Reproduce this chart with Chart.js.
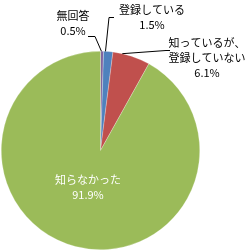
<!DOCTYPE html>
<html>
<head>
<meta charset="utf-8">
<script src="https://cdn.jsdelivr.net/npm/chart.js@4"></script>
<style>
  html, body { margin: 0; padding: 0; background: #fff; }
  #wrap { width: 246px; height: 251px; position: relative; }
</style>
</head>
<body>
<div id="wrap"><canvas id="myChart"></canvas></div>
<script>
// Data
const categories = ['無回答', '登録している', '知っているが、\n登録していない', '知らなかった'];
const values = [0.5, 1.5, 6.1, 91.9];
const sliceColors = ['#8064A2', '#4F81BD', '#C0504D', '#9BBB59'];

// Where each label sits (text centre x, first line y) and its leader line:
// stub = [stub start x, stub end x, y], at = where along the slice the line ends
const labelLayout = [
    { x: 73, y: 16, color: '#000', stub: [88, 95, 36], at: 0.3 },
    { x: 152, y: 10, color: '#000', stub: [114, 109, 17], at: 0.2 },
    { x: 207, y: 43, color: '#000', stub: [170, 166, 50], at: 0.25 },
    { x: 88, y: 180, color: '#fff', stub: null }
];

const pieLabels = {
    id: 'pieLabels',
    afterDatasetsDraw(chart) {
        const ctx = chart.ctx;
        const meta = chart.getDatasetMeta(0);
        ctx.save();
        ctx.font = '11px "Noto Sans CJK JP", sans-serif';
        ctx.textAlign = 'center';
        ctx.textBaseline = 'middle';
        meta.data.forEach((arc, i) => {
            const L = labelLayout[i];
            const lines = categories[i].split('\n').concat([values[i].toFixed(1) + '%']);
            ctx.fillStyle = L.color;
            lines.forEach((t, k) => ctx.fillText(t, L.x, L.y + k * 15));

            if (L.stub) {
                const p = arc.getProps(['x', 'y', 'startAngle', 'endAngle', 'outerRadius'], true);
                const a = p.startAngle + (p.endAngle - p.startAngle) * L.at;
                const ex = p.x + Math.cos(a) * p.outerRadius;
                const ey = p.y + Math.sin(a) * p.outerRadius;
                ctx.strokeStyle = '#000';
                ctx.lineWidth = 1;
                ctx.beginPath();
                ctx.moveTo(L.stub[0], L.stub[2] + 0.5);
                ctx.lineTo(L.stub[1], L.stub[2] + 0.5);
                ctx.lineTo(ex, ey);
                ctx.stroke();
            }
        });
        ctx.restore();
    }
};

new Chart(document.getElementById('myChart'), {
    type: 'pie',
    data: {
        labels: categories,
        datasets: [{
            data: values,
            backgroundColor: sliceColors,
            borderColor: 'rgba(255,255,255,0.5)',
            borderWidth: 0.5
        }]
    },
    options: {
        responsive: true,
        maintainAspectRatio: false,
        animation: false,
        layout: { padding: { left: 1, top: 51, right: 46, bottom: 1 } },
        plugins: {
            legend: { display: false },
            tooltip: { enabled: false }
        }
    },
    plugins: [pieLabels]
});
</script>
</body>
</html>
